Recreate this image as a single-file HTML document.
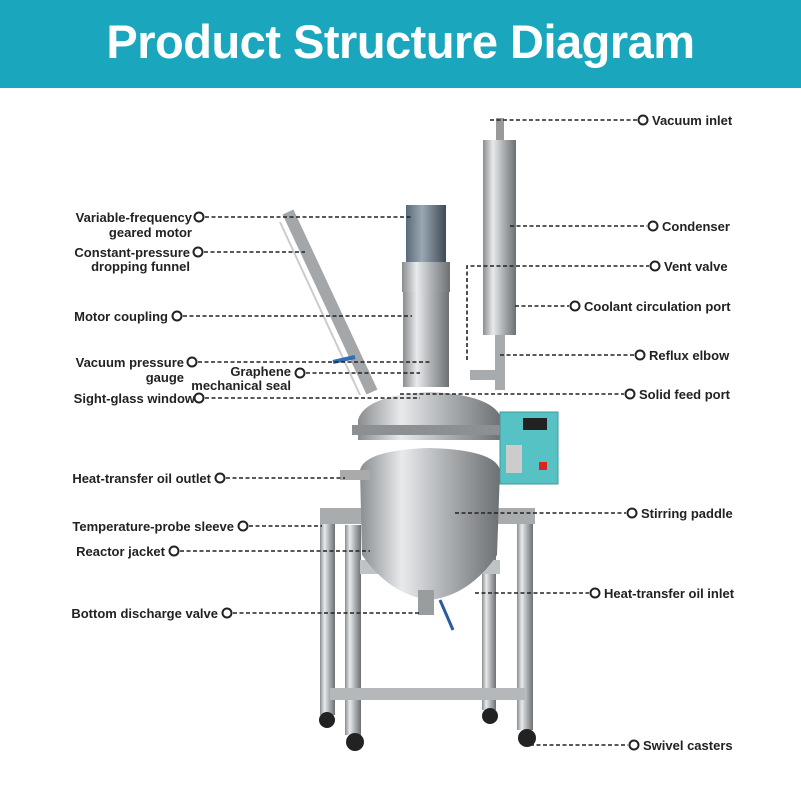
<!DOCTYPE html>
<html><head><meta charset="utf-8"><style>
html,body{margin:0;padding:0;background:#fff;}
#w{position:relative;width:801px;height:801px;overflow:hidden;background:#fff;font-family:"Liberation Sans",sans-serif;}
.hd{position:absolute;left:0;top:0;width:801px;height:88px;background:#1aa6bd;color:#fff;font-weight:bold;font-size:47px;text-align:center;line-height:84px;letter-spacing:-0.5px;}
svg{position:absolute;left:0;top:0;}
text{font-family:"Liberation Sans",sans-serif;font-weight:bold;font-size:13px;fill:#222;}
</style></head><body><div id="w">
<div class="hd">Product Structure Diagram</div>
<svg width="801" height="801" viewBox="0 0 801 801">
<defs>
<linearGradient id="m" x1="0" x2="1" y1="0" y2="0">
<stop offset="0" stop-color="#8a8d90"/><stop offset=".3" stop-color="#e8eaec"/><stop offset=".6" stop-color="#b0b3b6"/><stop offset="1" stop-color="#6d7073"/></linearGradient>
<linearGradient id="d" x1="0" x2="1"><stop offset="0" stop-color="#5a6a78"/><stop offset=".4" stop-color="#9aa8b4"/><stop offset="1" stop-color="#3e4a55"/></linearGradient>
</defs>
<!-- frame -->
<rect x="320" y="510" width="15" height="205" fill="url(#m)"/>
<rect x="345" y="525" width="16" height="210" fill="url(#m)"/>
<rect x="482" y="510" width="14" height="200" fill="url(#m)"/>
<rect x="517" y="520" width="16" height="210" fill="url(#m)"/>
<rect x="330" y="688" width="195" height="12" fill="#b5b8bb"/>
<rect x="320" y="508" width="215" height="16" fill="#a9acaf"/>
<rect x="360" y="560" width="140" height="14" fill="#c0c3c6"/>
<circle cx="327" cy="720" r="8" fill="#222"/><circle cx="355" cy="742" r="9" fill="#222"/>
<circle cx="490" cy="716" r="8" fill="#222"/><circle cx="527" cy="738" r="9" fill="#222"/>
<!-- vessel -->
<path d="M360 470 Q365 450 430 448 Q495 450 500 470 L497 555 Q470 595 430 600 Q390 595 362 555 Z" fill="url(#m)"/>
<rect x="418" y="590" width="16" height="25" fill="#9a9da0"/>
<line x1="440" y1="600" x2="453" y2="630" stroke="#2a5aa0" stroke-width="3"/>
<rect x="340" y="470" width="30" height="10" fill="#aaa"/>
<!-- lid -->
<path d="M358 420 Q365 395 430 392 Q495 395 502 420 L502 440 L358 440 Z" fill="url(#m)"/>
<rect x="352" y="425" width="155" height="10" fill="#8c9093"/>
<!-- motor -->
<rect x="406" y="205" width="40" height="60" fill="url(#d)"/>
<rect x="402" y="262" width="48" height="30" fill="url(#m)"/>
<rect x="403" y="292" width="46" height="95" fill="url(#m)"/>
<!-- funnel -->
<line x1="288" y1="212" x2="372" y2="392" stroke="#a4a7aa" stroke-width="12"/>
<line x1="280" y1="222" x2="360" y2="395" stroke="#ccc" stroke-width="2"/>
<line x1="333" y1="362" x2="355" y2="357" stroke="#2f6fb5" stroke-width="4"/>
<!-- condenser -->
<rect x="496" y="118" width="8" height="25" fill="#999"/>
<rect x="483" y="140" width="33" height="195" fill="url(#m)"/>
<rect x="495" y="335" width="10" height="55" fill="#a8abae"/>
<rect x="470" y="370" width="35" height="10" fill="#a8abae"/>
<!-- control box -->
<rect x="500" y="412" width="58" height="72" fill="#57c2c4" stroke="#3d9a9c"/>
<rect x="523" y="418" width="24" height="12" fill="#222"/>
<rect x="506" y="445" width="16" height="28" fill="#ccc"/>
<rect x="539" y="462" width="8" height="8" fill="#d22"/>
<!-- dotted lines -->
<g stroke="#222" stroke-width="1.6" stroke-dasharray="4 2.5" fill="none">
<line x1="205" y1="217" x2="412" y2="217"/>
<line x1="204" y1="252" x2="305" y2="252"/>
<line x1="183" y1="316" x2="412" y2="316"/>
<line x1="198" y1="362" x2="432" y2="362"/>
<line x1="306" y1="373" x2="420" y2="373"/>
<line x1="205" y1="398" x2="420" y2="398"/>
<line x1="226" y1="478" x2="345" y2="478"/>
<line x1="249" y1="526" x2="322" y2="526"/>
<line x1="180" y1="551" x2="370" y2="551"/>
<line x1="233" y1="613" x2="420" y2="613"/>
<line x1="490" y1="120" x2="637" y2="120"/>
<line x1="510" y1="226" x2="647" y2="226"/>
<polyline points="467,360 467,266 649,266"/>
<line x1="515" y1="306" x2="569" y2="306"/>
<line x1="500" y1="355" x2="634" y2="355"/>
<line x1="400" y1="394" x2="624" y2="394"/>
<line x1="455" y1="513" x2="626" y2="513"/>
<line x1="475" y1="593" x2="589" y2="593"/>
<line x1="530" y1="745" x2="628" y2="745"/>
</g>
<g fill="#fff" stroke="#222" stroke-width="2">
<circle cx="199" cy="217" r="4.5"/><circle cx="198" cy="252" r="4.5"/><circle cx="177" cy="316" r="4.5"/>
<circle cx="192" cy="362" r="4.5"/><circle cx="300" cy="373" r="4.5"/><circle cx="199" cy="398" r="4.5"/>
<circle cx="220" cy="478" r="4.5"/><circle cx="243" cy="526" r="4.5"/><circle cx="174" cy="551" r="4.5"/>
<circle cx="227" cy="613" r="4.5"/>
<circle cx="643" cy="120" r="4.5"/><circle cx="653" cy="226" r="4.5"/><circle cx="655" cy="266" r="4.5"/>
<circle cx="575" cy="306" r="4.5"/><circle cx="640" cy="355" r="4.5"/><circle cx="630" cy="394" r="4.5"/>
<circle cx="632" cy="513" r="4.5"/><circle cx="595" cy="593" r="4.5"/><circle cx="634" cy="745" r="4.5"/>
</g>
<g text-anchor="end">
<text x="192" y="222">Variable-frequency</text><text x="192" y="237">geared motor</text>
<text x="190" y="257">Constant-pressure</text><text x="190" y="271">dropping funnel</text>
<text x="168" y="321">Motor coupling</text>
<text x="184" y="367">Vacuum pressure</text><text x="184" y="382">gauge</text>
<text x="291" y="376">Graphene</text><text x="291" y="390">mechanical seal</text>
<text x="195" y="403">Sight-glass window</text>
<text x="211" y="483">Heat-transfer oil outlet</text>
<text x="234" y="531">Temperature-probe sleeve</text>
<text x="165" y="556">Reactor jacket</text>
<text x="218" y="618">Bottom discharge valve</text>
</g>
<text x="652" y="125">Vacuum inlet</text>
<text x="662" y="231">Condenser</text>
<text x="664" y="271">Vent valve</text>
<text x="584" y="311">Coolant circulation port</text>
<text x="649" y="360">Reflux elbow</text>
<text x="639" y="399">Solid feed port</text>
<text x="641" y="518">Stirring paddle</text>
<text x="604" y="598">Heat-transfer oil inlet</text>
<text x="643" y="750">Swivel casters</text>
</svg>
</div></body></html>
